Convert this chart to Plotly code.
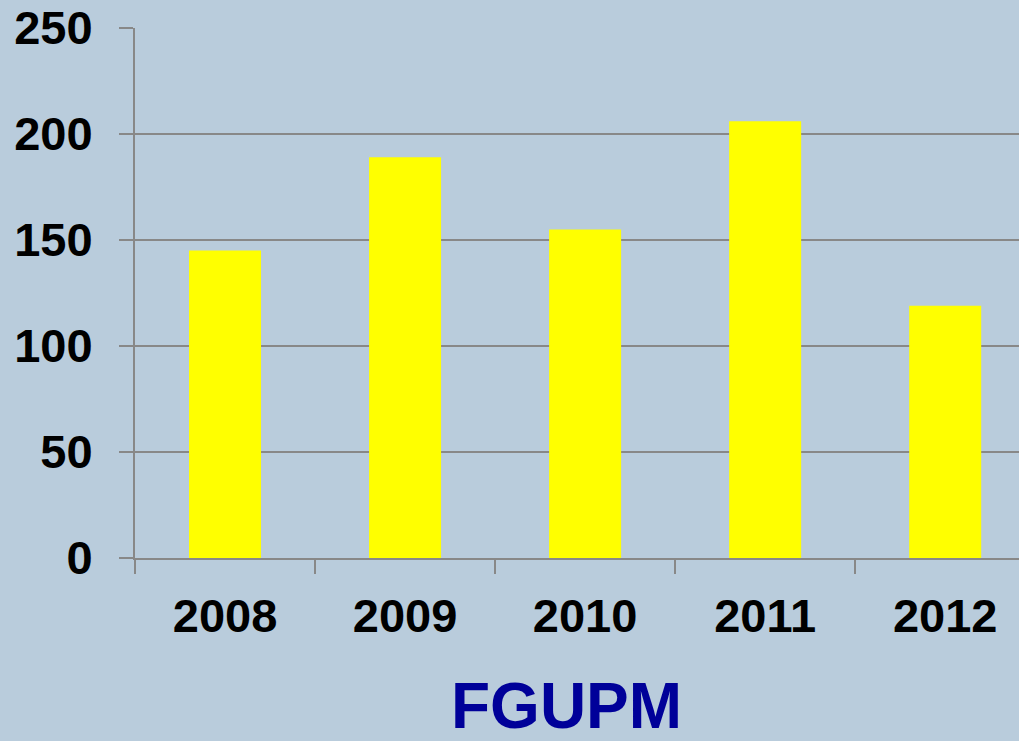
import plotly.graph_objects as go

# bar values
years = ["2008", "2009", "2010", "2011", "2012"]
counts = [145, 189, 155, 206, 119]

bg = "#B9CCDC"
grid = "#888888"

fig = go.Figure()
fig.add_trace(go.Bar(x=years, y=counts, marker=dict(color="#FFFF00", line=dict(width=0)),
                     showlegend=False))

fig.update_layout(
    width=1019, height=741,
    margin=dict(l=135, r=0, t=28, b=183),
    paper_bgcolor=bg, plot_bgcolor=bg,
    bargap=0.6,
    font=dict(family="Liberation Sans, Arial", color="black"),
)

fig.update_xaxes(
    type="category", range=[-0.5, 4.41],
    tickson="boundaries", ticks="outside", ticklen=14, tickwidth=2, tickcolor=grid,
    showline=True, linecolor=grid, linewidth=2,
    showgrid=False,
    tickfont=dict(size=47, family="Liberation Sans, Arial", color="black", weight="bold"),
    ticklabelstandoff=16,
)
fig.update_yaxes(
    range=[0, 250], dtick=50,
    ticks="outside", ticklen=14, tickwidth=2, tickcolor=grid,
    showline=True, linecolor=grid, linewidth=2,
    showgrid=True, gridcolor=grid, gridwidth=2,
    zeroline=False,
    tickfont=dict(size=47, family="Liberation Sans, Arial", color="black", weight="bold"),
    ticklabelstandoff=17,
)

fig.add_annotation(
    text="<b>FGUPM</b>", xref="paper", yref="paper", x=0.4876, y=-0.279,
    xanchor="center", yanchor="middle", showarrow=False,
    font=dict(size=64, family="Liberation Sans, Arial", color="#000099"),
)

# drop the page's default body margin so the figure sits at the corner
fig.write_html("out.html", config={"displayModeBar": False},
               post_script="document.body.style.margin='0';")
